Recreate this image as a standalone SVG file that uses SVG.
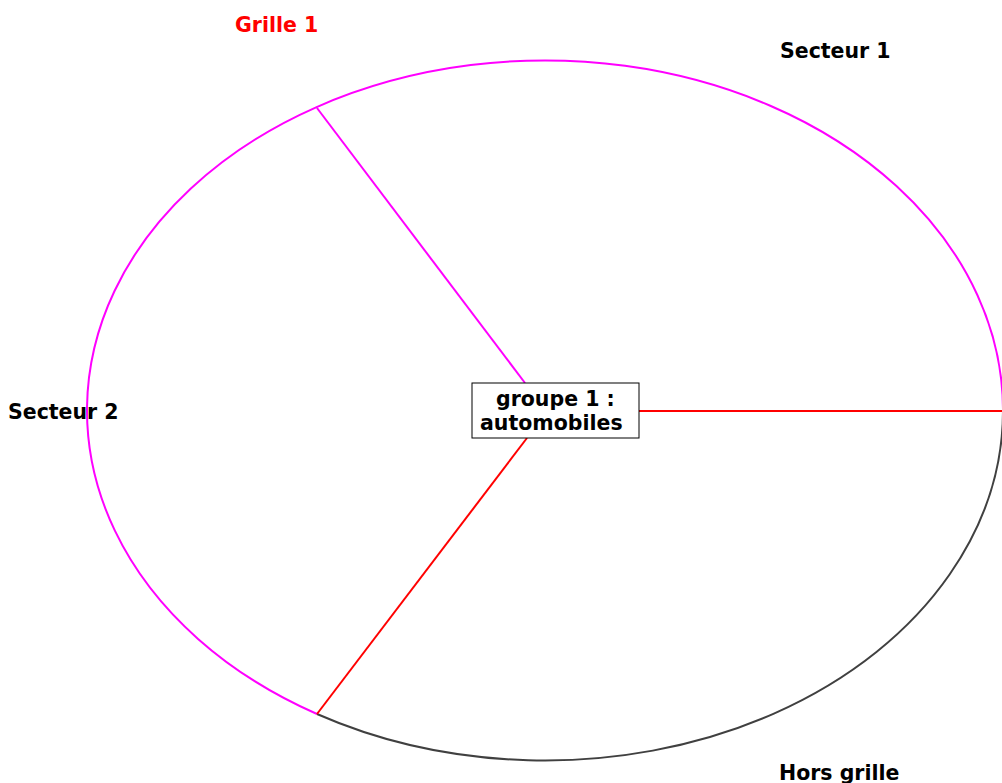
<svg xmlns="http://www.w3.org/2000/svg" width="1002" height="783" viewBox="0 0 1002 783">
<style>
text{font-family:"DejaVu Sans",sans-serif;font-weight:bold;font-size:20.5px;fill:#000}
.red{fill:#ff0000}
.mag{fill:none;stroke:#ff00ff;stroke-width:2}
.dark{fill:none;stroke:#404040;stroke-width:2}
.rl{fill:none;stroke:#ff0000;stroke-width:2}
</style>
<rect width="1002" height="783" fill="#fff"/>
<g id="connectors">
<path class="mag" d="M317,714 A458,350 0 1 1 1003,411.5"/>
<path class="dark" d="M317,714 A458,350 0 0 0 1003,411.5"/>
<line class="mag" x1="317" y1="108" x2="525" y2="383"/>
<line class="rl" x1="527" y1="438" x2="317" y2="714"/>
<line class="rl" x1="639" y1="411" x2="1002" y2="411"/>
</g>
<g id="grille1"><text class="red" x="235" y="32">Grille 1</text></g>
<g id="secteur1"><text x="780" y="58">Secteur 1</text></g>
<g id="secteur2"><text x="8" y="419">Secteur 2</text></g>
<g id="horsgrille"><text x="779" y="780">Hors grille</text></g>
<g id="groupe1">
<rect x="472" y="383" width="167" height="55" fill="#fff" stroke="#000" stroke-width="1"/>
<text x="496" y="406">groupe 1 :</text>
<text x="480" y="430">automobiles</text>
</g>
</svg>
